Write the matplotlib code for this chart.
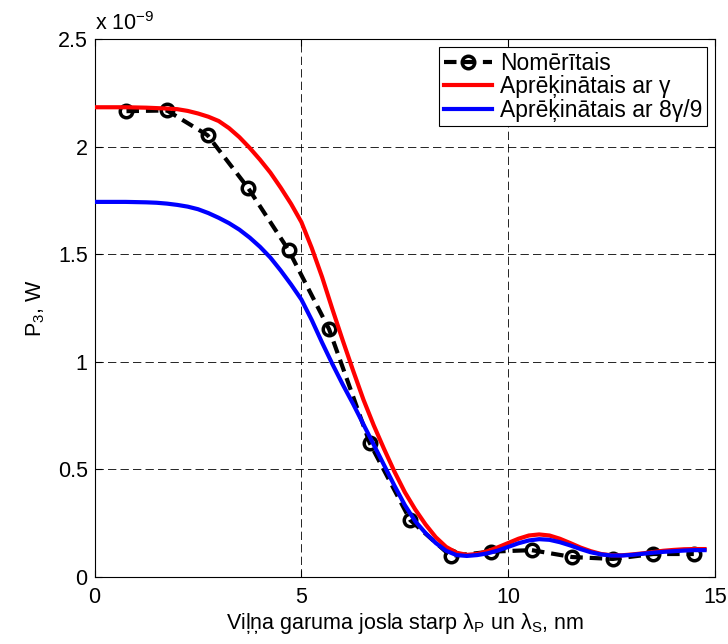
import numpy as np
import matplotlib
matplotlib.use("Agg")
from matplotlib import pyplot as plt

# measured points (values in units of 1e-9 W)
x_meas = [0.77, 1.75, 2.73, 3.71, 4.69, 5.67, 6.65, 7.63, 8.61, 9.59, 10.57, 11.55, 12.53, 13.51, 14.49]
p_meas = [2.166, 2.169, 2.054, 1.809, 1.52, 1.152, 0.624, 0.265, 0.098, 0.118, 0.125, 0.093, 0.084, 0.107, 0.107]

# calculated curves, sampled every 0.25 nm
x_calc = np.arange(0, 14.76, 0.25)
p_gamma = [2.184, 2.184, 2.184, 2.184, 2.183, 2.182, 2.180, 2.178, 2.175, 2.167, 2.155, 2.14,
           2.12, 2.087, 2.045, 1.995, 1.94, 1.88, 1.81, 1.735, 1.65, 1.53, 1.395, 1.245,
           1.10, 0.96, 0.825, 0.705, 0.595, 0.49, 0.395, 0.315, 0.245, 0.185, 0.14, 0.113,
           0.103, 0.107, 0.12, 0.138, 0.158, 0.178, 0.193, 0.198, 0.193, 0.178, 0.158, 0.137,
           0.12, 0.107, 0.101, 0.101, 0.105, 0.11, 0.116, 0.122, 0.126, 0.129, 0.13, 0.13]
p_gamma89 = [1.744, 1.744, 1.744, 1.744, 1.743, 1.742, 1.740, 1.736, 1.73, 1.722, 1.71, 1.692,
             1.67, 1.645, 1.615, 1.578, 1.535, 1.485, 1.425, 1.36, 1.29, 1.195, 1.09, 0.99,
             0.895, 0.805, 0.71, 0.615, 0.52, 0.425, 0.335, 0.26, 0.205, 0.158, 0.122, 0.102,
             0.098, 0.102, 0.11, 0.123, 0.14, 0.157, 0.17, 0.176, 0.173, 0.162, 0.147, 0.13,
             0.115, 0.105, 0.10, 0.10, 0.103, 0.108, 0.113, 0.117, 0.12, 0.123, 0.125, 0.125]

labels = ["Nomērītais", "Aprēķinātais ar γ", "Aprēķinātais ar 8γ/9"]
xticks = [0, 5, 10, 15]
yticks = [0, 0.5, 1, 1.5, 2, 2.5]

plt.rcParams['font.family'] = ['Liberation Sans', 'DejaVu Sans']
plt.rcParams['mathtext.fontset'] = 'custom'
plt.rcParams['mathtext.rm'] = 'Liberation Sans'
plt.rcParams['mathtext.it'] = 'Liberation Sans:italic'
plt.rcParams['lines.scale_dashes'] = False

fig = plt.figure(figsize=(7.28, 6.44), dpi=100)
ax = fig.add_axes([0.130, 0.104, 0.852, 0.835])

ax.plot(x_meas, p_meas, color='k', lw=3, linestyle=(0, (9, 5)), marker='o', markersize=9,
        markeredgewidth=2.5, markerfacecolor='none', label=labels[0], zorder=3)
ax.plot(x_calc, p_gamma, color=(1, 0, 0), lw=3, label=labels[1], zorder=4)
ax.plot(x_calc, p_gamma89, color=(0, 0, 1), lw=3, label=labels[2], zorder=5)

ax.set_xlim(0, 15)
ax.set_ylim(0, 2.5)
ax.set_xticks(xticks)
ax.set_yticks(yticks)
ax.set_xticklabels(['%g' % t for t in xticks])
ax.set_yticklabels(['%g' % t for t in yticks])
ax.tick_params(direction='in', length=5, width=0.8, top=True, right=True, labelsize=15.5, pad=5)
ax.tick_params(axis='x', pad=7)
for s in ax.spines.values():
    s.set_linewidth(0.8)

ax.grid(True, color='k', linewidth=0.6, linestyle=(0, (6, 3)))
ax.set_axisbelow(True)

ax.text(0, 1.008, 'x 10$^{-9}$', transform=ax.transAxes, ha='left', va='bottom', fontsize=15.5)
ax.set_xlabel('Viļņa garuma josla starp λ$_\\mathrm{P}$ un λ$_\\mathrm{S}$, nm', fontsize=15.5, labelpad=2)
ax.set_ylabel('P$_\\mathrm{3}$, W', fontsize=15.5, labelpad=8)

leg = ax.legend(loc='upper right', fontsize=16.5, frameon=True, fancybox=False, framealpha=1,
                edgecolor='k', handlelength=2.1, handletextpad=0.35, labelspacing=0.02,
                borderpad=0.2, borderaxespad=0.35)
leg.get_frame().set_linewidth(0.8)

fig.savefig('out.png', dpi=100)
